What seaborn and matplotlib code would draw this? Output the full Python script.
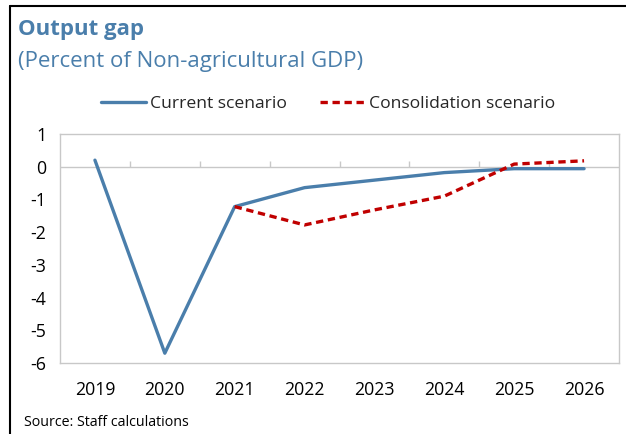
import numpy as np
import pandas as pd
import matplotlib.pyplot as plt
from matplotlib.lines import Line2D
import seaborn as sns

# Data
years = ['2019', '2020', '2021', '2022', '2023', '2024', '2025', '2026']
current = [0.2, -5.7, -1.22, -0.64, -0.41, -0.18, -0.06, -0.06]
consolidation = [np.nan, np.nan, -1.22, -1.78, -1.32, -0.9, 0.08, 0.18]

df = pd.DataFrame({'pos': range(len(years)), 'year': years,
                   'Current scenario': current,
                   'Consolidation scenario': consolidation})

sns.set_style('white')
plt.rcParams['font.family'] = ['Open Sans', 'DejaVu Sans']

blue = '#4A7EAB'
red = '#C00000'

fig = plt.figure(figsize=(6.26, 4.34), dpi=100)
ax = fig.add_axes([60 / 626, 1 - 363 / 434, 559 / 626, 229 / 434])

sns.lineplot(data=df, x='pos', y='Current scenario', ax=ax, color=blue,
             linewidth=2.4, label='Current scenario')
sns.lineplot(data=df, x='pos', y='Consolidation scenario', ax=ax, color=red,
             linewidth=2.4, linestyle=(0, (2.2, 1.4)),
             label='Consolidation scenario')

ax.set_xlim(-0.5, len(years) - 0.5)
ax.set_ylim(-6, 1)
ax.set_yticks(range(-6, 2))
ax.set_yticklabels([str(v) for v in range(-6, 2)])
ax.set_xticks(range(len(years)))
ax.set_xticklabels(years)
ax.tick_params(axis='both', length=0, labelsize=12.8, colors='black')
ax.tick_params(axis='x', pad=13)
ax.tick_params(axis='y', pad=10)
ax.set_xlabel('')
ax.set_ylabel('')

for s in ax.spines.values():
    s.set_color('#c8c8c8')
    s.set_linewidth(1.0)

# zero line with category-boundary tick marks
ax.axhline(0, color='#c8c8c8', linewidth=1.0, zorder=1)
ax.vlines(np.arange(0.5, len(years) - 1), 0, 0.18, color='#c8c8c8',
          linewidth=1.0, zorder=1)

ax.get_legend().remove()
handles, labels = ax.get_legend_handles_labels()
fig.legend(handles, labels, loc='center', bbox_to_anchor=(328 / 626, 1 - 104 / 434),
           ncol=2, frameon=False, fontsize=12.6, handlelength=2.6,
           handletextpad=0.2, columnspacing=1.9)

fig.text(18 / 626, 1 - 30 / 434, 'Output gap', fontsize=16, fontweight='bold',
         color=blue, va='center', ha='left')
fig.text(18 / 626, 1 - 62 / 434, '(Percent of Non-agricultural GDP)', fontsize=16,
         color=blue, va='center', ha='left')
fig.text(24 / 626, 1 - 423 / 434, 'Source: Staff calculations', fontsize=10.3,
         color='black', va='center', ha='left')

# outer frame (left and top edges)
fig.add_artist(Line2D([10 / 626, 10 / 626], [0, 1 - 6 / 434], color='black',
                      linewidth=1.5, transform=fig.transFigure))
fig.add_artist(Line2D([10 / 626, 1], [1 - 6 / 434, 1 - 6 / 434], color='black',
                      linewidth=1.5, transform=fig.transFigure))

plt.savefig('out.png', dpi=100)
